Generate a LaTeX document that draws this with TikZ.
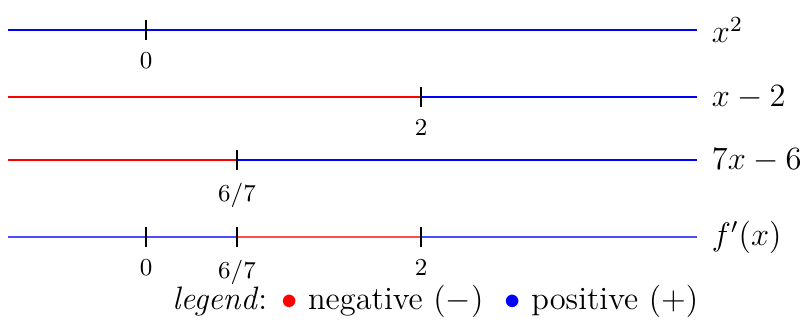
\documentclass[tikz,border=0pt]{standalone}
\usepackage{amsmath}
\usepackage{tikz}
\usetikzlibrary{positioning}

\begin{document}
\begin{tikzpicture}[
  x=0.013cm, y=-0.013cm,
  font=\small,
  negline/.style={line width=0.5pt, draw=red},
  posline/.style={line width=0.5pt, draw=blue},
  negsum/.style={line width=0.75pt, draw=red!70},
  possum/.style={line width=0.75pt, draw=blue!70},
  tickmark/.style={thin, draw=black},
  fname/.style={anchor=west, font=\large},
  tlabel/.style={below=5pt}
]
\useasboundingbox (0,0) rectangle (804,326);

% x^2
\coordinate (a0) at (8,30);
\coordinate (a1) at (697,30);
\coordinate (t0) at (146,30);
\draw[posline] (a0) -- (a1);
\draw[tickmark] ([yshift=-3.7pt]t0) -- ([yshift=3.7pt]t0);
\node[tlabel] (l0) at (t0) {$0$};
\node[fname] (fa) at ([xshift=2pt]a1) {$x^2$};

% x-2
\coordinate (b0) at (8,97);
\coordinate (b1) at (697,97);
\coordinate (t2) at (421,97);
\draw[negline] (b0) -- (t2);
\draw[posline] (t2) -- (b1);
\draw[tickmark] ([yshift=-3.7pt]t2) -- ([yshift=3.7pt]t2);
\node[tlabel] (l2) at (t2) {$2$};
\node[fname] (fb) at ([xshift=2pt]b1) {$x-2$};

% 7x-6
\coordinate (c0) at (8,160);
\coordinate (c1) at (697,160);
\coordinate (t67) at (237,160);
\draw[negline] (c0) -- (t67);
\draw[posline] (t67) -- (c1);
\draw[tickmark] ([yshift=-3.7pt]t67) -- ([yshift=3.7pt]t67);
\node[tlabel] (l67) at (t67) {$6/7$};
\node[fname] (fc) at ([xshift=2pt]c1) {$7x-6$};

% f'(x)
\coordinate (d0) at (8,237);
\coordinate (d1) at (697,237);
\coordinate (s0) at (146,237);
\coordinate (s67) at (237,237);
\coordinate (s2) at (421,237);
\draw[possum] (d0) -- (s67);
\draw[negsum] (s67) -- (s2);
\draw[possum] (s2) -- (d1);
\foreach \p in {s0,s67,s2}
  \draw[tickmark] ([yshift=-3.7pt]\p) -- ([yshift=3.7pt]\p);
\node[tlabel] (m0) at (s0) {$0$};
\node[tlabel] (m67) at (s67) {$6/7$};
\node[tlabel] (m2) at (s2) {$2$};
\node[fname] (fd) at ([xshift=2pt]d1) {$f'(x)$};

% legend
\node[font=\large, anchor=east] (leg) at ([xshift=4pt]697,301)
  {\textit{legend}: \textcolor{red}{$\bullet$} negative $(-)$ \ \textcolor{blue}{$\bullet$} positive $(+)$};
\end{tikzpicture}
\end{document}
